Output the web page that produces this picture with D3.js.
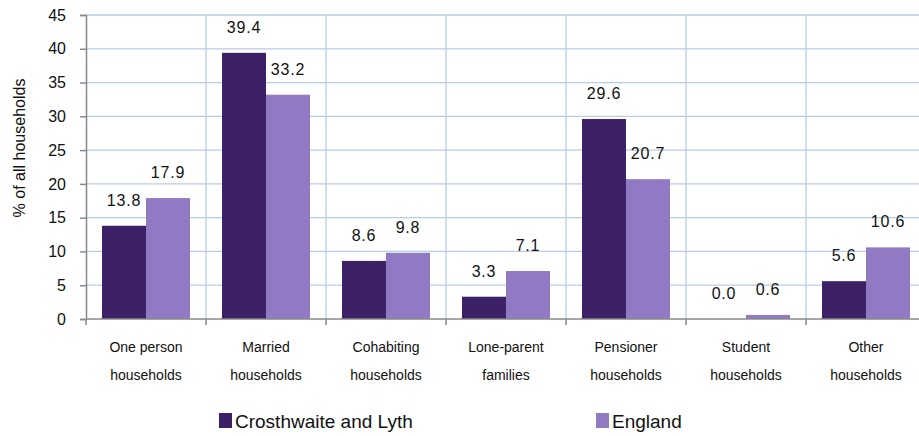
<!DOCTYPE html>
<html>
<head>
<meta charset="utf-8">
<script src="https://cdn.jsdelivr.net/npm/d3@7"></script>
<style>
  body { margin: 0; background: #fff; }
  svg { display: block; font-family: "Liberation Sans", Arial, sans-serif; }
</style>
</head>
<body>
<svg id="chart" width="919" height="436"></svg>
<script>
// data
const categories = [
  ["One person", "households"],
  ["Married", "households"],
  ["Cohabiting", "households"],
  ["Lone-parent", "families"],
  ["Pensioner", "households"],
  ["Student", "households"],
  ["Other", "households"]
];
const seriesNames = ["Crosthwaite and Lyth", "England"];
const crosthwaite = [13.8, 39.4, 8.6, 3.3, 29.6, 0.0, 5.6];
const england = [17.9, 33.2, 9.8, 7.1, 20.7, 0.6, 10.6];
const yTicks = [0, 5, 10, 15, 20, 25, 30, 35, 40, 45];
const colors = ["#3c2166", "#9179c4"];

const svg = d3.select("#chart");
// plot runs past the right edge of the window, as in the original
const margin = { left: 86, top: 15, right: -7, bottom: 117 };
const width = 919 - margin.left - margin.right;
const height = 436 - margin.top - margin.bottom;

const g = svg.append("g").attr("transform", `translate(${margin.left},${margin.top})`);

const x = d3.scaleBand().domain(d3.range(categories.length)).range([0, width]);
// the two bars take 88px of each 120px band
const groupW = 88;
const barW = groupW / 2;
const y = d3.scaleLinear().domain([0, 45]).range([height, 0]);

// horizontal gridlines
g.append("g")
  .selectAll("line")
  .data(yTicks.filter(d => d > 0))
  .enter()
  .append("line")
  .attr("x1", 0)
  .attr("x2", width)
  .attr("y1", d => y(d))
  .attr("y2", d => y(d))
  .attr("stroke", "#b9cde5")
  .attr("stroke-width", 1.3);

// vertical gridlines at category boundaries
g.append("g")
  .selectAll("line")
  .data(d3.range(1, categories.length + 1))
  .enter()
  .append("line")
  .attr("x1", d => x(d - 1) + x.bandwidth())
  .attr("x2", d => x(d - 1) + x.bandwidth())
  .attr("y1", 0)
  .attr("y2", height)
  .attr("stroke", "#b9cde5")
  .attr("stroke-width", 1.3);

// bars + value labels
const series = [crosthwaite, england];
series.forEach((vals, s) => {
  const bx = i => x(i) + (x.bandwidth() - groupW) / 2 + s * barW;

  g.append("g")
    .selectAll("rect")
    .data(vals)
    .enter()
    .append("rect")
    .attr("x", (d, i) => bx(i))
    .attr("y", d => y(d))
    .attr("width", barW)
    .attr("height", d => height - y(d))
    .attr("fill", colors[s]);

  g.append("g")
    .selectAll("text")
    .data(vals)
    .enter()
    .append("text")
    .attr("x", (d, i) => bx(i) + barW / 2)
    .attr("y", d => y(d) - 20)
    .attr("text-anchor", "middle")
    .attr("font-size", 16)
    .attr("letter-spacing", 0.8)
    .attr("fill", "#111")
    .text(d => d.toFixed(1));
});

// y axis
const yAxis = g.append("g")
  .call(d3.axisLeft(y).tickValues(yTicks).tickSize(6).tickPadding(14));
yAxis.select(".domain").attr("stroke", "#888").attr("stroke-width", 1.5);
yAxis.selectAll(".tick line").attr("stroke", "#888").attr("stroke-width", 1.5);
yAxis.selectAll(".tick text")
  .attr("font-size", 16)
  .attr("fill", "#111")
  .attr("font-family", "Liberation Sans, Arial, sans-serif");

// x axis baseline and ticks
const xAxisG = g.append("g").attr("transform", `translate(0,${height})`);
xAxisG.append("line")
  .attr("x1", 0).attr("x2", width)
  .attr("stroke", "#888").attr("stroke-width", 1.5);
xAxisG.selectAll("line.tick")
  .data(d3.range(0, categories.length + 1))
  .enter()
  .append("line")
  .attr("class", "tick")
  .attr("x1", d => d < categories.length ? x(d) : x(d - 1) + x.bandwidth())
  .attr("x2", d => d < categories.length ? x(d) : x(d - 1) + x.bandwidth())
  .attr("y1", 0).attr("y2", 6)
  .attr("stroke", "#888").attr("stroke-width", 1.5);

const xl = xAxisG.selectAll("text.cat")
  .data(categories)
  .enter()
  .append("text")
  .attr("class", "cat")
  .attr("text-anchor", "middle")
  .attr("font-size", 14)
  .attr("fill", "#111");
xl.append("tspan")
  .attr("x", (d, i) => x(i) + x.bandwidth() / 2)
  .attr("y", 33)
  .text(d => d[0]);
xl.append("tspan")
  .attr("x", (d, i) => x(i) + x.bandwidth() / 2)
  .attr("y", 61)
  .text(d => d[1]);

// y axis title
svg.append("text")
  .attr("transform", "translate(25,148) rotate(-90)")
  .attr("text-anchor", "middle")
  .attr("font-size", 16)
  .attr("fill", "#111")
  .text("% of all households");

// legend
const legendX = [219, 596];
const legend = svg.append("g")
  .selectAll("g")
  .data(seriesNames)
  .enter()
  .append("g")
  .attr("transform", (d, i) => `translate(${legendX[i]},413)`);
legend.append("rect")
  .attr("width", 13)
  .attr("height", 15)
  .attr("fill", (d, i) => colors[i]);
legend.append("text")
  .attr("x", 16)
  .attr("y", 15)
  .attr("font-size", 19)
  .attr("fill", "#111")
  .text(d => d);
</script>
</body>
</html>
